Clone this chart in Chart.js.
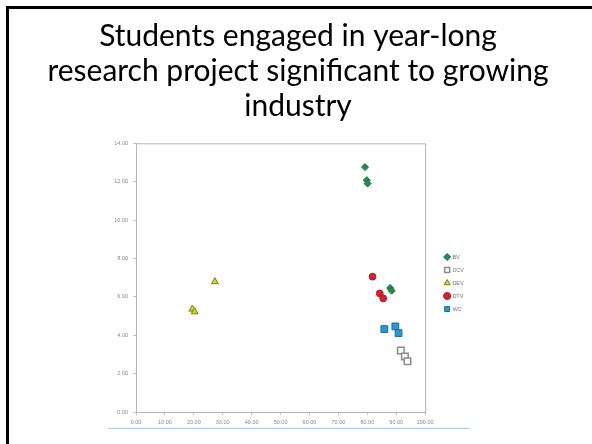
<!DOCTYPE html>
<html>
<head>
<meta charset="utf-8">
<script src="https://cdn.jsdelivr.net/npm/chart.js@4"></script>
<style>
  html, body { margin: 0; padding: 0; background: #fff; }
  #myChart { position: absolute; left: 0; top: 0; }
</style>
</head>
<body>
<canvas id="myChart" width="592" height="444"></canvas>
<script>
// DATA
const titleLines = [
  "Students engaged in year-long",
  "research project significant to growing",
  "industry",
];
const seriesNames = ["BV", "DCV", "DEV", "DTV", "WC"];

const bvX = [79.2, 79.8, 80.1, 87.9, 88.4];
const bvY = [12.76, 12.08, 11.9, 6.46, 6.32];
const dcvX = [91.6, 93.0, 93.9];
const dcvY = [3.2, 2.89, 2.65];
const devX = [27.3, 19.5, 20.3];
const devY = [6.79, 5.36, 5.22];
const dtvX = [81.8, 84.3, 85.5];
const dtvY = [7.05, 6.18, 5.92];
const wcX = [85.9, 89.7, 90.8];
const wcY = [4.32, 4.46, 4.11];

const xMin = 0, xMax = 100, xStep = 10;
const yMin = 0, yMax = 14, yStep = 2;

function pts(xs, ys) {
  return xs.map((x, i) => ({ x: x, y: ys[i] }));
}

// slide frame, plot box, legend/title nudges
const slideDeco = {
  id: "slideDeco",
  afterLayout(chart) {
    const t = chart.titleBlock;
    t.left = 8;
    t.right = 588;
    t.width = 580;
    const lg = chart.legend;
    lg.left += 12;
    lg.right += 12;
    lg.top += 60;
    lg.bottom += 60;
  },
  beforeDraw(chart) {
    const c = chart.ctx;
    c.save();
    c.fillStyle = "#fff";
    c.fillRect(0, 0, chart.width, chart.height);
    c.strokeStyle = "#000";
    c.lineWidth = 3;
    c.strokeRect(7.5, 7.5, 700, 700);
    c.restore();
  },
  afterDatasetsDraw(chart) {
    const c = chart.ctx;
    const a = chart.chartArea;
    c.save();
    c.strokeStyle = "#b5b5b5";
    c.lineWidth = 1;
    c.beginPath();
    c.moveTo(a.left, a.top + 0.5);
    c.lineTo(a.right + 0.5, a.top + 0.5);
    c.lineTo(a.right + 0.5, a.bottom);
    c.stroke();
    c.strokeStyle = "#b4c7e7";
    c.beginPath();
    c.moveTo(108, 428.5);
    c.lineTo(469, 428.5);
    c.stroke();
    c.restore();
  },
};

const ctx = document.getElementById("myChart");

new Chart(ctx, {
  type: "scatter",
  data: {
    datasets: [
      {
        label: seriesNames[0],
        data: pts(bvX, bvY),
        pointStyle: "rectRot",
        pointRadius: 3.5,
        backgroundColor: "#1f8f50",
        borderColor: "#16733f",
        borderWidth: 1,
      },
      {
        label: seriesNames[1],
        data: pts(dcvX, dcvY),
        pointStyle: "rect",
        pointRadius: 4.6,
        backgroundColor: "#ffffff",
        borderColor: "#8a8a8a",
        borderWidth: 1.5,
      },
      {
        label: seriesNames[2],
        data: pts(devX, devY),
        pointStyle: "triangle",
        pointRadius: 4,
        backgroundColor: "#d6d61a",
        borderColor: "#7d7d12",
        borderWidth: 1,
      },
      {
        label: seriesNames[3],
        data: pts(dtvX, dtvY),
        pointStyle: "circle",
        pointRadius: 3.4,
        backgroundColor: "#d2222c",
        borderColor: "#b81c25",
        borderWidth: 1,
      },
      {
        label: seriesNames[4],
        data: pts(wcX, wcY),
        pointStyle: "rect",
        pointRadius: 4.8,
        backgroundColor: "#2699d2",
        borderColor: "#1c6f99",
        borderWidth: 1,
      },
    ],
  },
  options: {
    responsive: false,
    animation: false,
    devicePixelRatio: 1,
    layout: {
      padding: { left: 20, right: 130, top: 12, bottom: 10 },
    },
    plugins: {
      title: {
        display: true,
        text: titleLines,
        color: "#000",
        font: { family: "Lato", size: 30, weight: "normal", lineHeight: 1.17 },
        padding: { top: 7, bottom: 19 },
      },
      legend: {
        display: true,
        position: "right",
        labels: {
          usePointStyle: true,
          boxWidth: 5,
          boxHeight: 5,
          padding: 7.5,
          color: "#777",
          font: { family: "Liberation Sans", size: 5.5 },
        },
      },
      tooltip: { enabled: false },
    },
    scales: {
      x: {
        type: "linear",
        min: xMin,
        max: xMax,
        afterFit: (s) => { s.height = 22; },
        ticks: {
          stepSize: xStep,
          padding: 4,
          color: "#888",
          font: { family: "Liberation Sans", size: 5.5 },
          callback: (v) => v.toFixed(2),
        },
        grid: { drawOnChartArea: false, tickLength: 3, color: "#c4c4c4" },
        border: { color: "#b5b5b5" },
      },
      y: {
        type: "linear",
        min: yMin,
        max: yMax,
        afterFit: (s) => { s.width = 116; },
        ticks: {
          stepSize: yStep,
          padding: 5,
          color: "#888",
          font: { family: "Liberation Sans", size: 5.5 },
          callback: (v) => v.toFixed(2),
        },
        grid: { drawOnChartArea: false, tickLength: 3, color: "#c4c4c4" },
        border: { color: "#b5b5b5" },
      },
    },
  },
  plugins: [slideDeco],
});
</script>
</body>
</html>
